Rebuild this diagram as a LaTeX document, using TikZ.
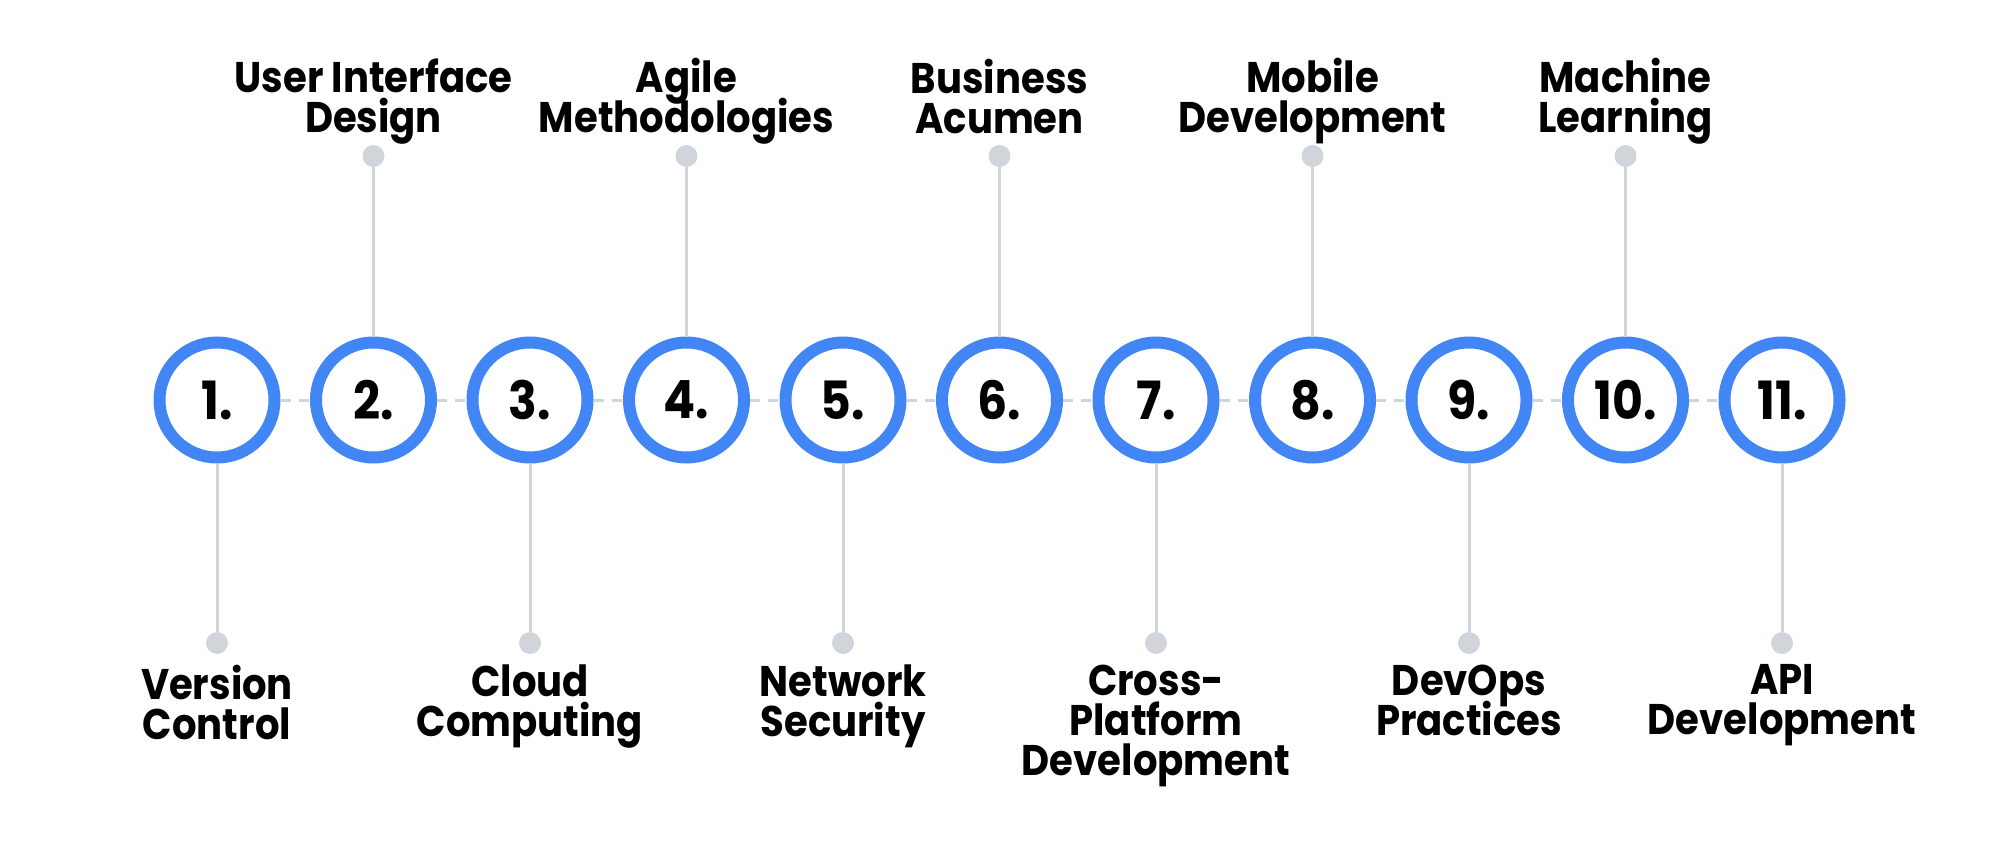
\documentclass[tikz,border=0pt]{standalone}
\usepackage{fontspec}
\setmainfont{Poppins}[FakeStretch=0.9]
\usetikzlibrary{positioning}
\definecolor{ringblue}{RGB}{66,133,244}
\definecolor{stemgray}{RGB}{209,213,219}

\tikzset{
  ring/.style={circle, draw=ringblue, fill=white, line width=0.12cm, minimum size=1.15cm, inner sep=0pt,
    font=\fontsize{15}{15}\selectfont\bfseries},
  link/.style={draw=stemgray, line width=0.03cm, dash pattern=on 0.1cm off 0.08cm},
  stem/.style={draw=stemgray, line width=0.03cm},
  dot/.style={circle, fill=stemgray, minimum size=0.22cm, inner sep=0pt, outer sep=0pt},
  skill/.style={align=center, inner sep=0pt,
    font=\fontsize{12.2}{11.4}\selectfont\bfseries\setlength\lineskiplimit{-20pt}\setlength\lineskip{0pt}},
  skilldown/.style={skill, execute at begin node={\rule{0pt}{0.35cm}}},
  skillup/.style={skill, execute at end node={\rule[-0.11cm]{0pt}{0pt}}}
}

\begin{document}
\begin{tikzpicture}
\useasboundingbox (0,0) rectangle (20,8.48);
% the eleven rings
\node[ring] (c1) at (2.17,4.48) {1.};
\node[ring] (c2) at (3.735,4.48) {2.};
\node[ring] (c3) at (5.30,4.48) {3.};
\node[ring] (c4) at (6.865,4.48) {4.};
\node[ring] (c5) at (8.43,4.48) {5.};
\node[ring] (c6) at (9.995,4.48) {6.};
\node[ring] (c7) at (11.56,4.48) {7.};
\node[ring] (c8) at (13.125,4.48) {8.};
\node[ring] (c9) at (14.69,4.48) {9.};
\node[ring] (c10) at (16.255,4.48) {10.};
\node[ring] (c11) at (17.82,4.48) {11.};
\draw[link] (c1)--(c2) (c2)--(c3) (c3)--(c4) (c4)--(c5) (c5)--(c6) (c6)--(c7)
  (c7)--(c8) (c8)--(c9) (c9)--(c10) (c10)--(c11);
% skill 1 down
\node[dot] (d1) at (2.17,2.05) {};
\node[skilldown, below=0.1cm of d1] (l1) {Version\\Control};
\draw[stem] (c1) -- (d1);
% skill 2 up
\node[dot] (d2) at (3.735,6.92) {};
\node[skillup, above=0pt of d2] (l2) {User Interface\\Design};
\draw[stem] (c2) -- (d2);
% skill 3 down
\node[dot] (d3) at (5.30,2.05) {};
\node[skilldown, below=0.1cm of d3] (l3) {Cloud\\Computing};
\draw[stem] (c3) -- (d3);
% skill 4 up
\node[dot] (d4) at (6.865,6.92) {};
\node[skillup, above=0pt of d4] (l4) {Agile\\Methodologies};
\draw[stem] (c4) -- (d4);
% skill 5 down
\node[dot] (d5) at (8.43,2.05) {};
\node[skilldown, below=0.1cm of d5] (l5) {Network\\Security};
\draw[stem] (c5) -- (d5);
% skill 6 up
\node[dot] (d6) at (9.995,6.92) {};
\node[skillup, above=0pt of d6] (l6) {Business\\Acumen};
\draw[stem] (c6) -- (d6);
% skill 7 down
\node[dot] (d7) at (11.56,2.05) {};
\node[skilldown, below=0.1cm of d7] (l7) {Cross-\\Platform\\Development};
\draw[stem] (c7) -- (d7);
% skill 8 up
\node[dot] (d8) at (13.125,6.92) {};
\node[skillup, above=0pt of d8] (l8) {Mobile\\Development};
\draw[stem] (c8) -- (d8);
% skill 9 down
\node[dot] (d9) at (14.69,2.05) {};
\node[skilldown, below=0.1cm of d9] (l9) {DevOps\\Practices};
\draw[stem] (c9) -- (d9);
% skill 10 up
\node[dot] (d10) at (16.255,6.92) {};
\node[skillup, above=0pt of d10] (l10) {Machine\\Learning};
\draw[stem] (c10) -- (d10);
% skill 11 down
\node[dot] (d11) at (17.82,2.05) {};
\node[skilldown, below=0.1cm of d11] (l11) {API\\Development};
\draw[stem] (c11) -- (d11);
\end{tikzpicture}
\end{document}
